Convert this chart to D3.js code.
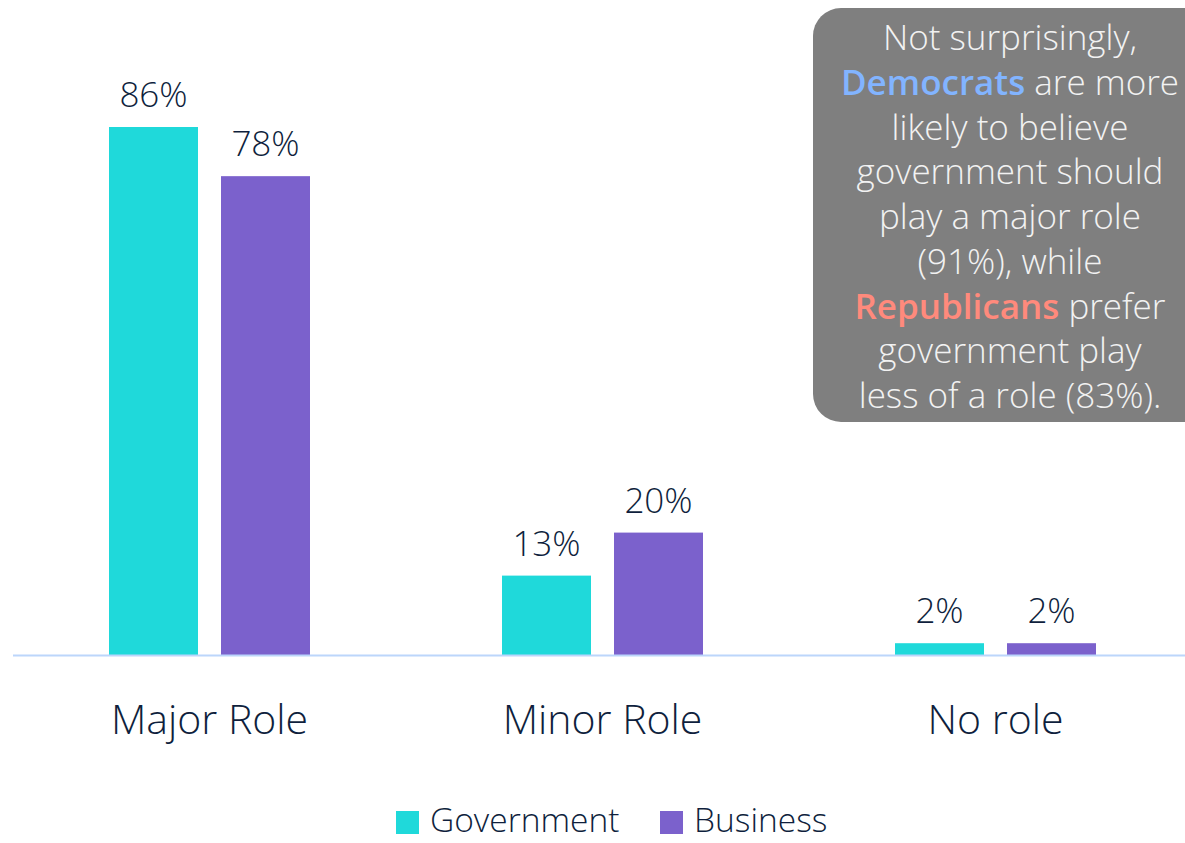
<!DOCTYPE html>
<html><head><meta charset="utf-8">
<script src="https://cdn.jsdelivr.net/npm/d3@7"></script>
<style>
html,body{margin:0;padding:0;background:#fff;}
svg{display:block;font-family:"Open Sans","Noto Sans",sans-serif;font-weight:300;}
</style></head>
<body><svg id="c" width="1185" height="843"></svg>
<script>
const categories = ["Major Role", "Minor Role", "No role"];
const seriesNames = ["Government", "Business"];
const government = [86, 13, 2];
const business = [78, 20, 2];
const colors = ["#1fd9da", "#7b61cc"];
const calloutLines = [
  [["Not surprisingly,", null]],
  [["Democrats", "dem"], [" are more", null]],
  [["likely to believe", null]],
  [["government should", null]],
  [["play a major role", null]],
  [["(91%), while", null]],
  [["Republicans", "rep"], [" prefer", null]],
  [["government play", null]],
  [["less of a role (83%).", null]]
];

const svg = d3.select("#c");
const baseY = 655.5;
const x0 = d3.scaleBand().domain(categories).range([13, 1192]).padding(0);
const y = d3.scaleLinear().domain([0, 86]).range([baseY, 127]);
const x1 = d3.scaleOrdinal().domain(seriesNames).range([-100.5, 11.5]);
const barW = 89;
const textColor = "#0f1f3d";

const data = categories.map((c, i) => ({cat: c, vals: [government[i], business[i]]}));

const g = svg.append("g");
data.forEach(d => {
  const cx = x0(d.cat) + x0.bandwidth() / 2;
  d.vals.forEach((v, j) => {
    const bx = cx + x1(seriesNames[j]);
    g.append("rect").attr("x", bx).attr("y", y(v)).attr("width", barW)
      .attr("height", baseY - y(v)).attr("fill", colors[j]);
    g.append("text").attr("x", bx + barW / 2).attr("y", y(v) - 20)
      .attr("text-anchor", "middle").attr("font-size", 35).attr("fill", textColor)
      .text(v + "%");
  });
});

// axis
const axis = d3.axisBottom(x0).tickSize(0).tickPadding(0);
const ax = svg.append("g").attr("transform", `translate(0,${baseY})`).call(axis);
ax.select(".domain").attr("stroke", "#bcd6fb").attr("stroke-width", 2).attr("d", "M13,0H1185");
ax.selectAll("text").attr("dy", 0).attr("y", 78).attr("font-size", 41)
  .attr("fill", textColor).attr("font-family", "'Open Sans','Noto Sans',sans-serif").attr("font-weight", 300);

// legend
const legX = [396, 660];
seriesNames.forEach((s, j) => {
  svg.append("rect").attr("x", legX[j]).attr("y", 811).attr("width", 23).attr("height", 23).attr("fill", colors[j]);
  svg.append("text").attr("x", legX[j] + 34).attr("y", 832).attr("font-size", 33.5).attr("fill", textColor).text(s);
});

// callout
svg.append("rect").attr("x", 813).attr("y", 8).attr("width", 420).attr("height", 414)
  .attr("rx", 28).attr("fill", "#7f7f7f");
const tc = {dem: "#82b4ff", rep: "#ff8a7c"};
calloutLines.forEach((line, i) => {
  const t = svg.append("text").attr("x", 1010).attr("y", 50 + i * 44.75)
    .attr("text-anchor", "middle").attr("font-size", 35).attr("fill", "#f2f2f2");
  line.forEach(([txt, k]) => {
    const ts = t.append("tspan").text(txt);
    if (k) ts.attr("fill", tc[k]).attr("font-weight", 600);
  });
});
</script></body></html>
